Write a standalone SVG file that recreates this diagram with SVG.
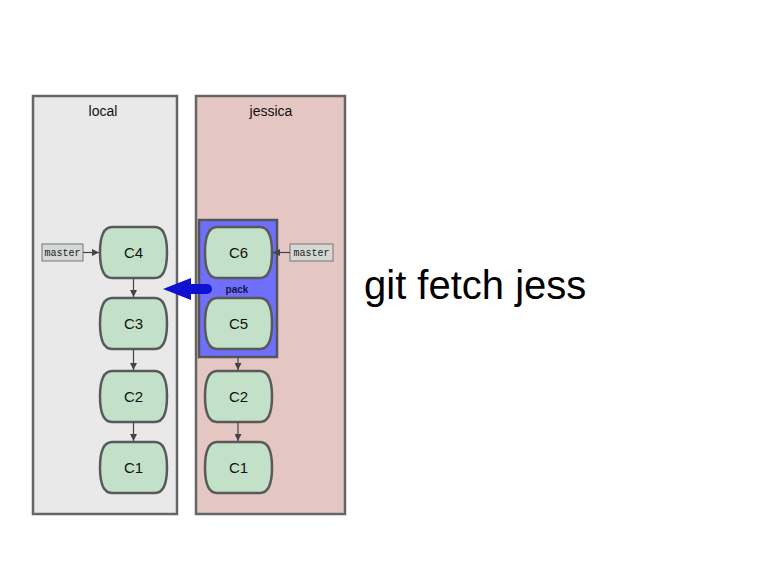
<svg xmlns="http://www.w3.org/2000/svg" xmlns:xlink="http://www.w3.org/1999/xlink" width="768" height="574" viewBox="0 0 768 574">
<style>
.repo{stroke:#666;stroke-width:2.5}
.commit{fill:#c3e1c9;stroke:#595959;stroke-width:2.5}
.ct{font-family:"Liberation Sans",Arial,sans-serif;font-size:15px;fill:#111;text-anchor:middle}
.title{font-family:"Liberation Sans",Arial,sans-serif;font-size:14px;fill:#111;text-anchor:middle}
.ref{fill:#d5d8d5;stroke:#777;stroke-width:1}
.rt{font-family:"Liberation Mono","DejaVu Sans Mono",monospace;font-size:10px;fill:#222;text-anchor:middle}
.edge{stroke:#444;stroke-width:1.2;fill:none}
</style>
<defs>
<marker id="ah" viewBox="0 0 10 10" refX="10" refY="5" markerWidth="7" markerHeight="7" markerUnits="userSpaceOnUse" orient="auto">
<path d="M0,0 L10,5 L0,10 Z" fill="#444"/>
</marker>
<path id="cshape" d="M12,0 H55 C64,0 67,12 67,25.5 C67,39 64,51 55,51 H12 C3,51 0,39 0,25.5 C0,12 3,0 12,0 Z"/>
</defs>
<rect width="768" height="574" fill="#fff"/>
<g id="local">
<rect class="repo" x="33" y="96" width="144" height="418" fill="#e8e9e8"/>
<text class="title" x="103" y="116">local</text>
</g>
<g id="jessica">
<rect class="repo" x="196" y="96" width="149" height="418" fill="#e4c7c3"/>
<text class="title" x="271" y="116">jessica</text>
</g>
<g id="pack">
<rect x="199" y="220" width="78" height="137" fill="#6f6ffc" stroke="#555" stroke-width="2.5"/>
<text x="237" y="293" font-family="Liberation Sans,Arial,sans-serif" font-size="10" font-weight="bold" fill="#14144a" text-anchor="middle">pack</text>
</g>
<g id="local-C4"><use href="#cshape" class="commit" x="100" y="227"/><text class="ct" x="133.5" y="258">C4</text></g>
<g id="local-C3"><use href="#cshape" class="commit" x="100" y="298"/><text class="ct" x="133.5" y="329">C3</text></g>
<g id="local-C2"><use href="#cshape" class="commit" x="100" y="371"/><text class="ct" x="133.5" y="402">C2</text></g>
<g id="local-C1"><use href="#cshape" class="commit" x="100" y="442"/><text class="ct" x="133.5" y="473">C1</text></g>
<g id="jess-C6"><use href="#cshape" class="commit" x="205" y="227"/><text class="ct" x="238.5" y="258">C6</text></g>
<g id="jess-C5"><use href="#cshape" class="commit" x="205" y="298"/><text class="ct" x="238.5" y="329">C5</text></g>
<g id="jess-C2"><use href="#cshape" class="commit" x="205" y="371"/><text class="ct" x="238.5" y="402">C2</text></g>
<g id="jess-C1"><use href="#cshape" class="commit" x="205" y="442"/><text class="ct" x="238.5" y="473">C1</text></g>
<g id="local-master"><rect class="ref" x="42" y="244" width="41" height="17"/><text class="rt" x="62.5" y="256">master</text></g>
<g id="jess-master"><rect class="ref" x="290" y="244" width="43" height="17"/><text class="rt" x="311.5" y="256">master</text></g>
<g id="connectors">
<line class="edge" x1="83" y1="252.5" x2="99" y2="252.5" marker-end="url(#ah)"/>
<line class="edge" x1="290" y1="252.5" x2="273" y2="252.5" marker-end="url(#ah)"/>
<line class="edge" x1="133.5" y1="279" x2="133.5" y2="297" marker-end="url(#ah)"/>
<line class="edge" x1="133.5" y1="350" x2="133.5" y2="370" marker-end="url(#ah)"/>
<line class="edge" x1="133.5" y1="422" x2="133.5" y2="441" marker-end="url(#ah)"/>
<line class="edge" x1="238" y1="357" x2="238" y2="370" marker-end="url(#ah)"/>
<line class="edge" x1="238" y1="422" x2="238" y2="441" marker-end="url(#ah)"/>
<path d="M207,284 H191 V278 L163,289 L191,300 V294 H207 A5,5 0 0 0 207,284 Z" fill="#1010d0"/>
</g>
<text x="364" y="299" font-family="Liberation Sans,Arial,sans-serif" font-size="40" fill="#000">git fetch jess</text>
</svg>
